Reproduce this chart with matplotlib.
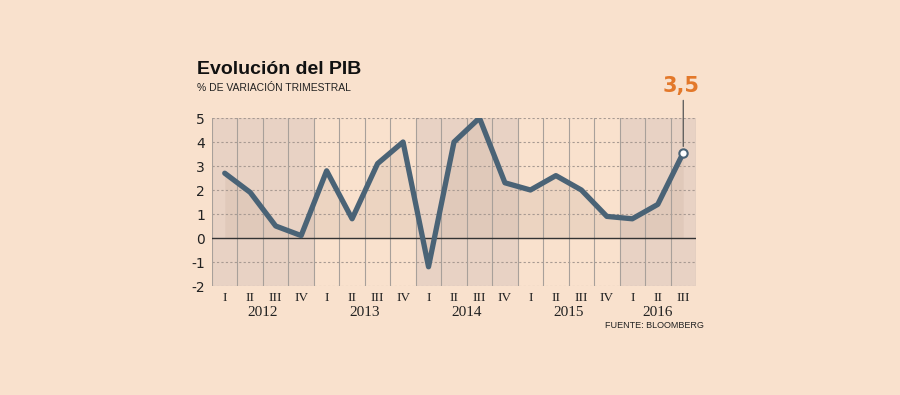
import matplotlib
matplotlib.use("Agg")
import matplotlib.pyplot as plt
import numpy as np

years = ["2012", "2013", "2014", "2015", "2016"]
quarters = ["I", "II", "III", "IV", "I", "II", "III", "IV", "I", "II", "III", "IV",
            "I", "II", "III", "IV", "I", "II", "III"]
values = [2.7, 1.9, 0.5, 0.1, 2.8, 0.8, 3.1, 4.0, -1.2, 4.0, 5.0, 2.3,
          2.0, 2.6, 2.0, 0.9, 0.8, 1.4, 3.55]
year_sizes = [4, 4, 4, 4, 3]
shaded_years = [True, False, True, False, True]
last_label = "3,5"

BG = "#F9E1CD"
SHADE = "#E8D2C4"
LINE = "#4A6376"
ORANGE = "#E3782A"
SANS = ["Liberation Sans", "DejaVu Sans"]

fig = plt.figure(figsize=(9, 3.95), dpi=100, facecolor=BG)
ax = fig.add_axes([212/900, 1-286/395, 484/900, 168/395])
ax.set_facecolor(BG)

n = len(values)
x = np.arange(n)
ax.set_xlim(-0.5, n - 0.5)
ax.set_ylim(-2, 5)

start = 0
for sz, sh in zip(year_sizes, shaded_years):
    if sh:
        ax.axvspan(start - 0.5, start + sz - 0.5, color=SHADE, zorder=0, lw=0)
    start += sz

ax.fill_between(x, values, 0, color="#C9AFA0", alpha=0.25, lw=0, zorder=1)

for yv in range(-2, 6):
    if yv == 0:
        continue
    ax.axhline(yv, color="#A89A92", lw=0.8, ls=(0, (2, 2)), zorder=2)
for xv in np.arange(-0.5, n, 1):
    ax.axvline(xv, color="#A8A09A", lw=0.8, zorder=2)
ax.axhline(0, color="#333333", lw=1.0, zorder=3)

ax.plot(x, values, color=LINE, lw=3.8, solid_joinstyle="round",
        solid_capstyle="round", zorder=4)
ax.plot(x[-1], values[-1], "o", ms=6, mfc="white", mec=LINE, mew=1.5, zorder=5)

for s in ax.spines.values():
    s.set_visible(False)

ax.set_yticks(range(-2, 6))
ax.set_yticklabels([str(v) for v in range(-2, 6)], fontsize=10,
                   fontfamily="DejaVu Sans", color="#222222")
ax.tick_params(axis="y", length=0, pad=5)
ax.set_xticks(x)
ax.set_xticklabels(quarters, fontsize=9.5, fontfamily="Liberation Serif", color="#222222")
ax.tick_params(axis="x", length=0, pad=4)

start = 0
for yr, sz in zip(years, year_sizes):
    cx = start + (sz - 1) / 2 if sz == 4 else start + 1
    ax.text(cx, -3.1, yr, ha="center", va="center", fontsize=11,
            fontfamily="Liberation Serif", color="#222222")
    start += sz

ax.annotate("", xy=(x[-1], values[-1] + 0.15), xytext=(x[-1], 5.85),
            arrowprops=dict(arrowstyle="-", color="#555555", lw=0.9),
            annotation_clip=False)
ax.text(x[-1] - 0.1, 6.35, last_label, ha="center", va="center", fontsize=15,
        fontweight="bold", color=ORANGE, fontfamily="DejaVu Sans")

fig.text(197/900, 1-70/395, "Evolución del PIB", fontsize=14, fontweight="bold",
         fontfamily=SANS, color="#111111", va="center", ha="left")
fig.text(197/900, 1-88/395, "% DE VARIACIÓN TRIMESTRAL", fontsize=7.5,
         fontfamily=SANS, color="#222222", va="center", ha="left")
fig.text(704/900, 1-326/395, "FUENTE: BLOOMBERG", fontsize=6.5,
         fontfamily=SANS, color="#222222", va="center", ha="right")

fig.savefig("out.png", dpi=100, facecolor=BG)
